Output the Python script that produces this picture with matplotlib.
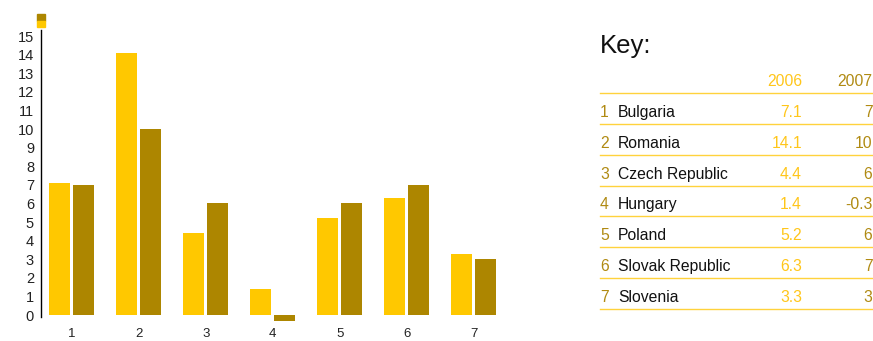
import matplotlib
matplotlib.use("Agg")
import matplotlib.pyplot as plt
from matplotlib.patches import Rectangle
from matplotlib.lines import Line2D
import numpy as np

plt.rcParams['font.family'] = ['Liberation Sans', 'DejaVu Sans']

# Data
countries = ["Bulgaria", "Romania", "Czech Republic", "Hungary", "Poland",
             "Slovak Republic", "Slovenia"]
numbers = [1, 2, 3, 4, 5, 6, 7]
v2006 = [7.1, 14.1, 4.4, 1.4, 5.2, 6.3, 3.3]
v2007 = [7, 10, 6, -0.3, 6, 7, 3]
label2006 = ["7.1", "14.1", "4.4", "1.4", "5.2", "6.3", "3.3"]
label2007 = ["7", "10", "6", "-0.3", "6", "7", "3"]
years = ["2006", "2007"]
yticks = list(range(0, 16))

YELLOW = "#FFC800"
BROWN = "#AD8600"
YELLOW_TXT = "#FFC61A"
BROWN_TXT = "#B08A12"

W, H = 873, 341
fig = plt.figure(figsize=(W / 100, H / 100), dpi=100)


def fx(px):
    return px / W


def fy(py):
    return 1 - py / H


# Bar chart axes (pixel-based placement)
ax_left, ax_right = 41, 510
ax_top, ax_bottom = 29.5, 316.9
ax = fig.add_axes([fx(ax_left), fy(ax_bottom), fx(ax_right - ax_left),
                   (ax_bottom - ax_top) / H])

x = np.array(numbers, dtype=float)
bw = 0.31
off = 0.18
ax.bar(x - off, v2006, width=bw, color=YELLOW, clip_on=False, zorder=2)
ax.bar(x + off, v2007, width=bw, color=BROWN, clip_on=False, zorder=2)

ax.set_xlim(0.54, 7.54)
ax.set_ylim(-0.1, 15.35)
ax.set_yticks(yticks)
ax.set_yticklabels([str(t) for t in yticks])
ax.set_xticks(numbers)
ax.set_xticklabels([str(n) for n in numbers])
ax.tick_params(axis='y', length=0, pad=5, labelsize=10.5, labelcolor="#222222")
ax.tick_params(axis='x', length=0, pad=8, labelsize=9.5, labelcolor="#222222")
for s in ["top", "right", "bottom"]:
    ax.spines[s].set_visible(False)
ax.spines["left"].set_color("#000000")
ax.spines["left"].set_linewidth(1.0)
ax.patch.set_alpha(0)

# Small series marker above the axis
fig.patches.append(Rectangle((fx(37), fy(20.5)), fx(8), 6.5 / H,
                             transform=fig.transFigure, color=BROWN))
fig.patches.append(Rectangle((fx(37), fy(27)), fx(8), 6.5 / H,
                             transform=fig.transFigure, color=YELLOW))

# Key table
fs = 11.3
fig.text(fx(600), fy(53), "Key:", fontsize=18.5, color="#111111",
         va="baseline", ha="left")
fig.text(fx(802), fy(85.7), years[0], fontsize=fs, color=YELLOW_TXT,
         va="baseline", ha="right")
fig.text(fx(872.5), fy(85.7), years[1], fontsize=fs, color=BROWN_TXT,
         va="baseline", ha="right")

row_h = 30.8
line_color = "#FFD23C"
fig.add_artist(Line2D([fx(600), fx(873)], [fy(93.3), fy(93.3)],
                      color=line_color, lw=1.0, transform=fig.transFigure))
for i, (n, c, a, b) in enumerate(zip(numbers, countries, label2006, label2007)):
    base = 117 + row_h * i
    fig.text(fx(600), fy(base), str(n), fontsize=fs, color=BROWN_TXT,
             va="baseline", ha="left")
    fig.text(fx(618), fy(base), c, fontsize=fs, color="#111111",
             va="baseline", ha="left")
    fig.text(fx(802), fy(base), a, fontsize=fs, color=YELLOW_TXT,
             va="baseline", ha="right")
    fig.text(fx(872.5), fy(base), b, fontsize=fs, color=BROWN_TXT,
             va="baseline", ha="right")
    ly = 124 + row_h * i
    fig.add_artist(Line2D([fx(600), fx(873)], [fy(ly), fy(ly)],
                          color=line_color, lw=1.0, transform=fig.transFigure))

fig.savefig("out.png", dpi=100)
